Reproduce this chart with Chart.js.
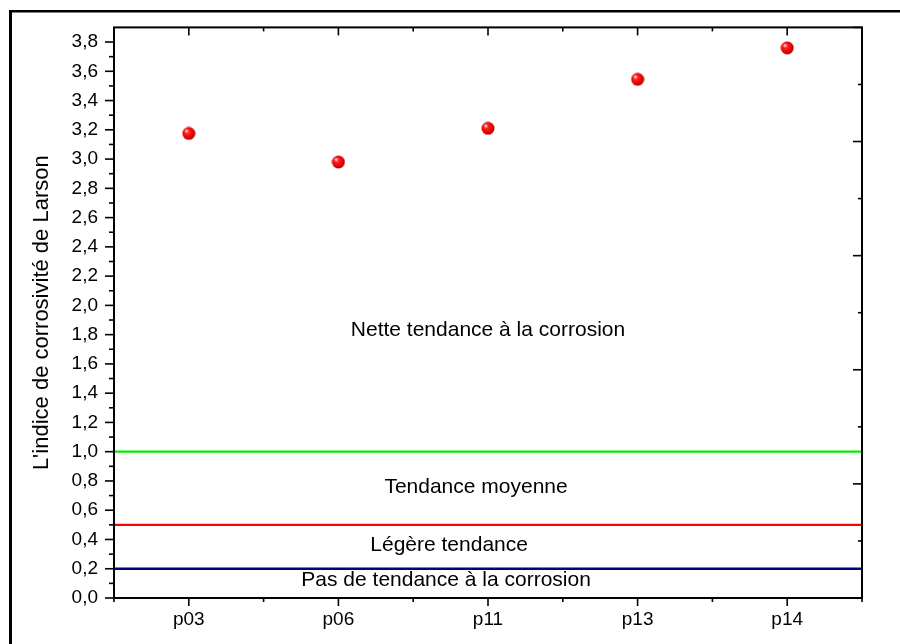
<!DOCTYPE html>
<html>
<head>
<meta charset="utf-8">
<script src="https://cdn.jsdelivr.net/npm/chart.js@4.4.1/dist/chart.umd.min.js"></script>
<style>
  html, body { margin: 0; padding: 0; background: #fff; overflow: hidden; }
  #wrap { width: 900px; height: 644px; }
</style>
</head>
<body>
<div id="wrap"><canvas id="larsonChart" width="900" height="644"></canvas></div>
<script>
// Larson corrosivity index per sample
const categories = ['p03', 'p06', 'p11', 'p13', 'p14'];
const larsonIndex = [3.175, 2.98, 3.21, 3.545, 3.76];

// threshold lines
const thresholdValues = [1.0, 0.5, 0.2];
const thresholdColors = ['#00ee00', '#ff0000', '#000080'];

// zone labels and where they sit (category position, index value)
const zoneLabels = ['Nette tendance à la corrosion', 'Tendance moyenne', 'Légère tendance', 'Pas de tendance à la corrosion'];
const zoneLabelX = [2.0, 1.92, 1.74, 1.72];
const zoneLabelY = [1.83, 0.755, 0.36, 0.12];

// red shaded sphere used as point marker
function makeSphere(r) {
    const c = document.createElement('canvas');
    c.width = c.height = Math.ceil(r * 2) + 1;
    const g = c.getContext('2d');
    const grad = g.createRadialGradient(r * 0.7, r * 0.65, 0.5, r, r, r);
    grad.addColorStop(0, '#ffd8d8');
    grad.addColorStop(0.3, '#ff2020');
    grad.addColorStop(0.8, '#e80000');
    grad.addColorStop(1, '#b00000');
    g.fillStyle = grad;
    g.beginPath();
    g.arc(r + 0.5, r + 0.5, r, 0, Math.PI * 2);
    g.fill();
    return c;
}

const framePlugin = {
    id: 'frame',
    beforeDraw(chart) {
        const ctx = chart.ctx;
        ctx.save();
        ctx.fillStyle = '#000';
        ctx.fillRect(9, 10, 3, 640);
        ctx.fillRect(9, 10, 900, 2.5);
        ctx.restore();
    },
    beforeDatasetsDraw(chart) {
        const ctx = chart.ctx;
        const a = chart.chartArea;
        const y = chart.scales.y;
        ctx.save();
        thresholdValues.forEach((v, i) => {
            const py = y.getPixelForValue(v);
            ctx.strokeStyle = thresholdColors[i];
            ctx.lineWidth = 2.3;
            ctx.beginPath();
            ctx.moveTo(a.left, py);
            ctx.lineTo(a.right, py);
            ctx.stroke();
        });
        ctx.fillStyle = '#000';
        ctx.font = '21px "Liberation Sans", Arial, sans-serif';
        ctx.textAlign = 'center';
        ctx.textBaseline = 'middle';
        const x = chart.scales.x;
        zoneLabels.forEach((t, i) => {
            ctx.fillText(t, x.getPixelForValue(zoneLabelX[i]), y.getPixelForValue(zoneLabelY[i]));
        });
        ctx.restore();
    },
    afterDraw(chart) {
        const ctx = chart.ctx;
        const a = chart.chartArea;
        const x = chart.scales.x, y = chart.scales.y, y2 = chart.scales.y2;
        ctx.save();
        ctx.strokeStyle = '#000';
        ctx.lineWidth = 2;
        ctx.strokeRect(a.left, a.top, a.right - a.left, a.bottom - a.top);
        ctx.lineWidth = 1.6;
        const tick = (x1, y1, x2, y2_) => {
            ctx.beginPath();
            ctx.moveTo(x1, y1);
            ctx.lineTo(x2, y2_);
            ctx.stroke();
        };
        // left axis: majors every 0.2, minors every 0.1, outward
        for (let k = 0; k <= 38; k++) {
            const py = y.getPixelForValue(k / 10);
            tick(a.left, py, a.left - (k % 2 === 0 ? 9 : 5), py);
        }
        // right axis: inward ticks
        for (let k = 0; k <= 10; k++) {
            const py = y2.getPixelForValue(k / 2);
            tick(a.right, py, a.right - (k % 2 === 0 ? 9 : 4), py);
        }
        // bottom (outward) and top (inward)
        for (let k = 0; k <= categories.length * 2; k++) {
            const px = x.getPixelForValue(k / 2 - 0.5);
            const major = k % 2 === 1;
            tick(px, a.bottom, px, a.bottom + (major ? 8 : 4));
            tick(px, a.top, px, a.top + (major ? 8 : 4));
        }
        ctx.restore();
    }
};

const ctx = document.getElementById('larsonChart').getContext('2d');
const larsonChart = new Chart(ctx, {
    type: 'scatter',
    data: {
        labels: categories,
        datasets: [{
            label: 'Indice de Larson',
            data: larsonIndex,
            pointStyle: makeSphere(6.5),
            pointRadius: 6.5,
            showLine: false
        }]
    },
    options: {
        responsive: false,
        animation: false,
        layout: {
            padding: { top: 23, right: 38, left: 0, bottom: 0 }
        },
        plugins: {
            legend: { display: false },
            tooltip: { enabled: false }
        },
        scales: {
            x: {
                type: 'category',
                offset: true,
                grid: { display: false, drawTicks: false },
                border: { display: false },
                ticks: {
                    color: '#000',
                    padding: 10,
                    font: { family: '"Liberation Sans", Arial, sans-serif', size: 19 }
                },
                afterFit(scale) { scale.height = 46; }
            },
            y: {
                type: 'linear',
                min: 0,
                max: 3.9,
                grid: { display: false, drawTicks: false },
                border: { display: false },
                ticks: {
                    stepSize: 0.2,
                    includeBounds: false,
                    color: '#000',
                    padding: 16,
                    font: { family: '"Liberation Sans", Arial, sans-serif', size: 19 },
                    callback: v => v.toFixed(1).replace('.', ',')
                },
                title: {
                    display: true,
                    text: "L'indice de corrosivité de Larson",
                    color: '#000',
                    padding: { top: 29, bottom: 0 },
                    font: { family: '"Liberation Sans", Arial, sans-serif', size: 22 }
                },
                afterFit(scale) { scale.width = 114; }
            },
            y2: {
                type: 'linear',
                position: 'right',
                min: 0,
                max: 5,
                grid: { display: false, drawTicks: false },
                border: { display: false },
                ticks: { display: false },
                afterFit(scale) { scale.width = 0; }
            }
        }
    },
    plugins: [framePlugin]
});
</script>
</body>
</html>
